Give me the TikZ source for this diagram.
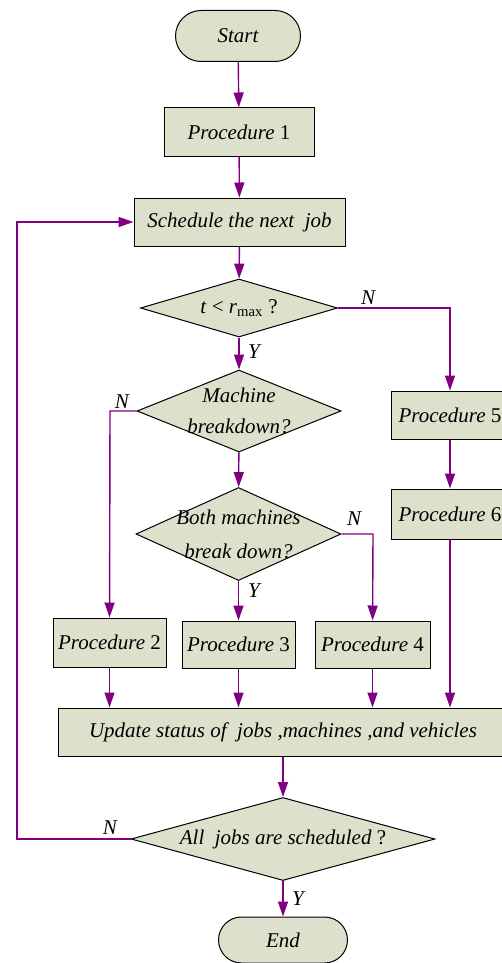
\documentclass[tikz,border=0pt]{standalone}
\usepackage{fontspec}
\setmainfont{Liberation Serif}
\usepackage{tikz}
\usetikzlibrary{positioning, calc, arrows.meta, shapes.geometric, shapes.misc}
\definecolor{boxfill}{RGB}{221,224,203}
\definecolor{flowline}{RGB}{128,0,128}
\tikzset{terminal/.style={rounded rectangle, draw=black, fill=boxfill, line width=1pt, inner sep=0pt, font=\itshape}}
\tikzset{procbox/.style={rectangle, draw=black, fill=boxfill, line width=1pt, inner sep=0pt, minimum height=48pt}}
\tikzset{decision/.style={diamond, draw=black, fill=boxfill, line width=1pt, inner sep=0pt}}
\tikzset{flow/.style={draw=flowline, line width=1.4pt, -{Triangle[length=15pt, width=10pt]}}}
\tikzset{branch/.style={font=\itshape, inner sep=1pt}}

\begin{document}
\fontsize{21}{24}\selectfont
\begin{tikzpicture}[x=1pt, y=-1pt]

      \useasboundingbox (0,0) rectangle (502,963);

      % TERMINALS AND PROCEDURES

      \node[terminal, minimum width=125pt, minimum height=51pt] (start) at (238,36) {Start};
      \node[procbox, minimum width=150pt] (p1) at (239,132) {\textit{Procedure} 1};
      \node[procbox, minimum width=211pt] (sched) at (239.5,222) {\textit{Schedule the next~ job}};
      \node[procbox, minimum width=118pt] (p5) at (450,415) {\textit{Procedure} 5};
      \node[procbox, minimum width=118pt, minimum height=50pt] (p6) at (450,514) {\textit{Procedure} 6};
      \node[procbox, minimum width=113pt, minimum height=49pt] (p2) at (109.5,642.5) {\textit{Procedure} 2};
      \node[procbox, minimum width=113pt, minimum height=47pt] (p3) at (238.5,644.5) {\textit{Procedure} 3};
      \node[procbox, minimum width=115pt, minimum height=47pt] (p4) at (372.5,644.5) {\textit{Procedure} 4};
      \node[procbox, minimum width=450pt] (update) at (283,732) {\textit{Update status of~ jobs ,machines ,and vehicles}};
      \node[terminal, minimum width=129pt, minimum height=46pt] (end) at (283,940) {End};

      % DECISIONS

      \node[decision, minimum width=197pt, minimum height=58pt] (d0) at (239,308) {};
      \node[decision, minimum width=204pt, minimum height=82pt] (d1) at (239,411) {};
      \node[decision, minimum width=205pt, minimum height=93pt] (d2) at (238.5,534) {};
      \node[decision, minimum width=304pt, minimum height=83pt] (d3) at (283,839) {};

      \node at (d0.center) {\textit{t} < \textit{r}\textsubscript{\upshape max} ?};
      \node[align=center, font=\itshape] at (d1.center) {Machine\\[7pt]breakdown?};
      \node[align=center, font=\itshape] at (d2.center) {Both machines\\[10pt]break down?};
      \node at (d3.center) {\textit{All~ jobs are scheduled} ?};

      % CORNERS

      \coordinate (c0) at (450,308);
      \coordinate (c1) at (110,411);
      \coordinate (c2) at (373,534);
      \coordinate (c3) at (17,839);
      \coordinate (c4) at (17,222);

      % ARCS

      \draw[flow] (start) -- (p1);
      \draw[flow] (p1) -- (sched);
      \draw[flow] (sched) -- (d0);
      \draw[flow] (d0) -- (d1);
      \draw[flow] (d0.east) -- (c0) -- (p5);
      \draw[flow] (p5) -- (p6);
      \draw[flow] (d1) -- (d2);
      \draw[flow] (d1.west) -- (c1) -- (p2);
      \draw[flow] (d2) -- (p3);
      \draw[flow] (d2.east) -- (c2) -- (p4);
      \draw[flow] (p2) -- (p2 |- update.north);
      \draw[flow] (p3) -- (p3 |- update.north);
      \draw[flow] (p4) -- (p4 |- update.north);
      \draw[flow] (p6) -- (p6 |- update.north);
      \draw[flow] (update) -- (d3);
      \draw[flow] (d3) -- (end);
      \draw[flow] (d3.west) -- (c3) -- (c4) -- (sched.west);

      % LABELS

      \node[branch] at (368,298) {N};
      \node[branch] at (254,352) {Y};
      \node[branch] at (122,402) {N};
      \node[branch] at (354,519) {N};
      \node[branch] at (254,591) {Y};
      \node[branch] at (110,828) {N};
      \node[branch] at (298,899) {Y};
\end{tikzpicture}
\end{document}
